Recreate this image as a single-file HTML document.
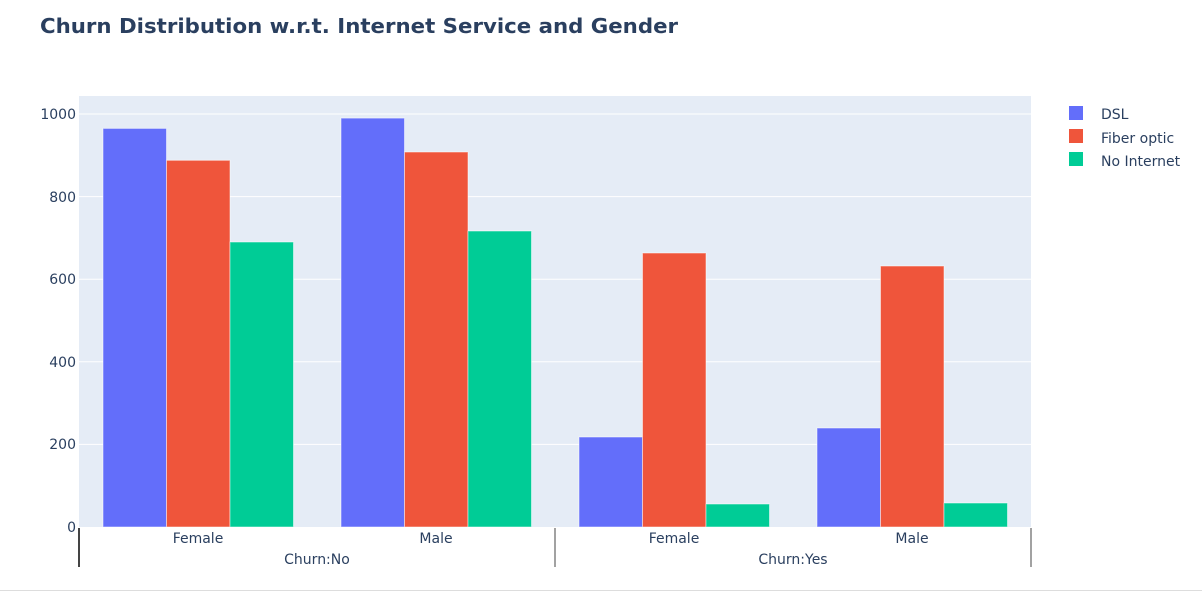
<!DOCTYPE html>
<html><head><meta charset="utf-8"><style>
body{margin:0;background:#fff;}
svg{display:block;font-family:"DejaVu Sans","Liberation Sans",sans-serif;}
</style></head><body>
<svg width="1202" height="595" xmlns="http://www.w3.org/2000/svg">
<text x="40" y="33" font-size="20" font-weight="bold" fill="#2a3f5f" textLength="638" lengthAdjust="spacingAndGlyphs">Churn Distribution w.r.t. Internet Service and Gender</text>
<rect x="79" y="96" width="952" height="431" fill="#e5ecf6"/>
<g stroke="#fff" stroke-width="1">
<line x1="79" x2="1031" y1="444.4" y2="444.4"/>
<line x1="79" x2="1031" y1="361.8" y2="361.8"/>
<line x1="79" x2="1031" y1="279.2" y2="279.2"/>
<line x1="79" x2="1031" y1="196.6" y2="196.6"/>
<line x1="79" x2="1031" y1="114" y2="114"/>
</g>
<g font-size="14" fill="#2a3f5f" text-anchor="end">
<text x="76" y="532">0</text>
<text x="76" y="449">200</text>
<text x="76" y="367">400</text>
<text x="76" y="284">600</text>
<text x="76" y="202">800</text>
<text x="76" y="119">1000</text>
</g>
<g stroke="#fff" stroke-opacity="0.5" stroke-width="1">
<rect x="103" y="128.4" width="63.5" height="398.6" fill="#636efa"/>
<rect x="166.5" y="160.3" width="63.5" height="366.7" fill="#ef553b"/>
<rect x="230" y="242" width="63.5" height="285" fill="#00cc96"/>
<rect x="341" y="118.1" width="63.5" height="408.9" fill="#636efa"/>
<rect x="404.5" y="152" width="63.5" height="375" fill="#ef553b"/>
<rect x="468" y="231" width="63.5" height="296" fill="#00cc96"/>
<rect x="579" y="437" width="63.5" height="90" fill="#636efa"/>
<rect x="642.5" y="253" width="63.5" height="274" fill="#ef553b"/>
<rect x="706" y="504" width="63.5" height="23" fill="#00cc96"/>
<rect x="817" y="428" width="63.5" height="99" fill="#636efa"/>
<rect x="880.5" y="266" width="63.5" height="261" fill="#ef553b"/>
<rect x="944" y="503" width="63.5" height="24" fill="#00cc96"/>
</g>
<line x1="79" x2="79" y1="528" y2="567" stroke="#444" stroke-width="2"/>
<line x1="555" x2="555" y1="528" y2="567" stroke="#444" stroke-width="1"/>
<line x1="1031" x2="1031" y1="528" y2="567" stroke="#444" stroke-width="1"/>
<g font-size="14" fill="#2a3f5f" text-anchor="middle">
<text x="198" y="543">Female</text>
<text x="436" y="543">Male</text>
<text x="674" y="543">Female</text>
<text x="912" y="543">Male</text>
<text x="317" y="564">Churn:No</text>
<text x="793" y="564">Churn:Yes</text>
</g>
<g font-size="14" fill="#2a3f5f">
<rect x="1069" y="106" width="14" height="14" fill="#636efa"/>
<text x="1101" y="119">DSL</text>
<rect x="1069" y="129" width="14" height="14" fill="#ef553b"/>
<text x="1101" y="143">Fiber optic</text>
<rect x="1069" y="152" width="14" height="14" fill="#00cc96"/>
<text x="1101" y="166">No Internet</text>
</g>
<line x1="0" x2="1202" y1="590.5" y2="590.5" stroke="#ddd" stroke-width="1"/>
</svg>
</body></html>
